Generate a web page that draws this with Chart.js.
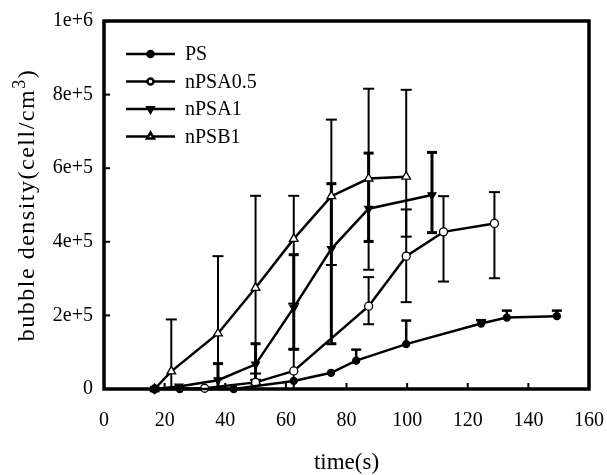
<!DOCTYPE html>
<html>
<head>
<meta charset="utf-8">
<title>bubble density</title>
<script src="https://cdn.jsdelivr.net/npm/chart.js@4.4.1/dist/chart.umd.min.js"></script>
<style>
  html, body { margin: 0; padding: 0; background: #fff; }
  #wrap { width: 607px; height: 475px; position: relative; }
</style>
</head>
<body>
<div id="wrap"><canvas id="c"></canvas></div>
<script>
// Axis ticks
const xTicks = [0, 20, 40, 60, 80, 100, 120, 140, 160];
const yTicks = [0, 200000, 400000, 600000, 800000, 1000000];
const yTickLabels = ['0', '2e+5', '4e+5', '6e+5', '8e+5', '1e+6'];

// PS
const psTime    = [16.7, 25, 42.8, 62.6, 74.9, 83.2, 99.7, 124.4, 132.9, 149.4];
const psDensity = [0, 0, 0, 22000, 44000, 77000, 122000, 178000, 194000, 198000];
const psLow     = [null, null, null, null, null, 77000, 122000, 178000, 194000, 198000];
const psHigh    = [null, null, null, null, null, 107000, 186000, 187000, 213000, 213000];

// nPSA0.5
const a05Time    = [16.7, 33.2, 50, 62.6, 87.3, 99.7, 112, 128.8];
const a05Density = [0, 2000, 18000, 49000, 225000, 361000, 427000, 450000];
const a05Low     = [null, null, -8000, -10000, 176000, 236000, 292000, 301000];
const a05High    = [null, null, 42000, 108000, 304000, 488000, 524000, 535000];

// nPSA1
const a1Time    = [16.7, 24.7, 37.6, 50, 62.6, 75, 87.3, 108.2];
const a1Density = [0, 7000, 24000, 67000, 221000, 381000, 490000, 527000];
const a1Low     = [null, null, -21000, 13000, 108000, 123000, 401000, 425000];
const a1High    = [null, null, 69000, 123000, 365000, 558000, 641000, 643000];

// nPSB1
const b1Time    = [16.7, 22.2, 37.6, 50, 62.6, 75, 87.3, 99.7];
const b1Density = [0, 48000, 151000, 275000, 408000, 524000, 572000, 577000];
const b1Low     = [null, -93000, -59000, 25000, 232000, 337000, 324000, 414000];
const b1High    = [null, 189000, 361000, 525000, 525000, 732000, 816000, 813000];

const serif = '"Liberation Serif", "Times New Roman", serif';

const series = [
  { label: 'PS',      time: psTime,  density: psDensity,  low: psLow,  high: psHigh,
    pointStyle: 'circle',   radius: 3.5, rotation: 0,   fill: '#000', barWidth: 2.5, cap: 5,
    legendRadius: 3 },
  { label: 'nPSA0.5', time: a05Time, density: a05Density, low: a05Low, high: a05High,
    pointStyle: 'circle',   radius: 4,   rotation: 0,   fill: '#fff', barWidth: 2,   cap: 5.5,
    legendRadius: 3 },
  { label: 'nPSA1',   time: a1Time,  density: a1Density,  low: a1Low,  high: a1High,
    pointStyle: 'triangle', radius: 4.5, rotation: 180, fill: '#000', barWidth: 3,   cap: 5,
    legendRadius: 3.5 },
  { label: 'nPSB1',   time: b1Time,  density: b1Density,  low: b1Low,  high: b1High,
    pointStyle: 'triangle', radius: 5,   rotation: 0,   fill: '#fff', barWidth: 2,   cap: 5.5,
    legendRadius: 4 }
];

const datasets = series.map(s => ({
  label: s.label,
  data: s.time.map((t, i) => ({ x: t, y: s.density[i] })),
  showLine: true,
  borderColor: '#000',
  borderWidth: 2.5,
  pointStyle: s.pointStyle,
  pointRadius: s.radius,
  pointRotation: s.rotation,
  pointBackgroundColor: s.fill,
  pointBorderColor: '#000',
  pointBorderWidth: 1.3,
  tension: 0,
  clip: false
}));

function seg(ctx, x1, y1, x2, y2) {
  ctx.beginPath(); ctx.moveTo(x1, y1); ctx.lineTo(x2, y2); ctx.stroke();
}

// Frame, inward ticks and error bars, drawn under the series
const underlay = {
  id: 'underlay',
  beforeDatasetsDraw(chart) {
    const { ctx, chartArea: a, scales: { x, y } } = chart;
    ctx.save();
    ctx.strokeStyle = '#000';
    ctx.lineCap = 'butt';

    // error bars
    ctx.save();
    ctx.beginPath();
    ctx.rect(a.left, a.top, a.right - a.left, a.bottom - a.top);
    ctx.clip();
    series.forEach(s => {
      s.time.forEach((t, i) => {
        if (s.high[i] == null) return;
        const px = x.getPixelForValue(t);
        const yHi = y.getPixelForValue(s.high[i]);
        const yLo = y.getPixelForValue(s.low[i]);
        ctx.lineWidth = s.barWidth;
        seg(ctx, px, yLo, px, yHi);
        seg(ctx, px - s.cap, yHi, px + s.cap, yHi);
        if (s.low[i] < s.density[i]) seg(ctx, px - s.cap, yLo, px + s.cap, yLo);
      });
    });
    ctx.restore();

    // inward tick marks
    ctx.lineWidth = 2;
    yTicks.forEach(v => {
      const py = y.getPixelForValue(v);
      seg(ctx, a.left, py, a.left + 6, py);
    });
    xTicks.forEach(v => {
      const px = x.getPixelForValue(v);
      seg(ctx, px, a.bottom, px, a.bottom - 6);
    });

    // plot frame
    ctx.lineWidth = 3.5;
    ctx.strokeRect(a.left, a.top, a.right - a.left, a.bottom - a.top);
    ctx.restore();
  },
  afterDraw(chart) {
    const { ctx, chartArea: a } = chart;
    ctx.save();
    ctx.fillStyle = '#000';

    // x axis title
    ctx.font = '23px ' + serif;
    ctx.textAlign = 'center';
    ctx.textBaseline = 'middle';
    ctx.fillText('time(s)', (a.left + a.right) / 2, 463);

    // y axis title with superscript
    const main = 'bubble density(cell/cm';
    const sup = '3';
    const tail = ')';
    ctx.save();
    ctx.translate(28, (a.top + a.bottom) / 2);
    ctx.rotate(-Math.PI / 2);
    ctx.textAlign = 'left';
    ctx.textBaseline = 'middle';
    ctx.letterSpacing = '1.5px';
    const bigFont = '24px ' + serif;
    const supFont = '18px ' + serif;
    ctx.font = bigFont;
    const w1 = ctx.measureText(main).width;
    const w3 = ctx.measureText(tail).width;
    ctx.font = supFont;
    const w2 = ctx.measureText(sup).width;
    let sx = -(w1 + w2 + w3) / 2;
    ctx.font = bigFont;
    ctx.fillText(main, sx, 0);
    sx += w1;
    ctx.font = supFont;
    ctx.fillText(sup, sx, -8);
    sx += w2;
    ctx.font = bigFont;
    ctx.fillText(tail, sx, 0);
    ctx.restore();

    // legend
    const rowY = [54, 81.5, 109, 136.5];
    series.forEach((s, i) => {
      const yy = rowY[i];
      ctx.strokeStyle = '#000';
      ctx.lineWidth = 2.5;
      seg(ctx, 126, yy, 175, yy);
      ctx.fillStyle = s.fill;
      ctx.strokeStyle = '#000';
      Chart.helpers.drawPoint(ctx, {
        pointStyle: s.pointStyle, radius: s.legendRadius,
        rotation: s.rotation, borderWidth: 1.2
      }, 150.5, yy);
      ctx.fillStyle = '#000';
      ctx.font = '20px ' + serif;
      ctx.textAlign = 'left';
      ctx.textBaseline = 'middle';
      ctx.fillText(s.label, 185, yy + 1);
    });
    ctx.restore();
  }
};

new Chart(document.getElementById('c'), {
  type: 'scatter',
  data: { datasets },
  plugins: [underlay],
  options: {
    responsive: true,
    maintainAspectRatio: false,
    animation: false,
    devicePixelRatio: 1,
    layout: { padding: { top: 21, right: 18, left: 0, bottom: 0 } },
    plugins: { legend: { display: false }, tooltip: { enabled: false } },
    scales: {
      x: {
        type: 'linear', min: 0, max: 160,
        afterBuildTicks: sc => { sc.ticks = xTicks.map(v => ({ value: v })); },
        afterFit: sc => { sc.height = 86; sc.paddingLeft = 0; sc.paddingRight = 0; },
        grid: { display: false, drawTicks: false },
        border: { display: false },
        ticks: { color: '#000', font: { family: serif, size: 20 }, padding: 20, maxRotation: 0,
                 callback: v => String(v) }
      },
      y: {
        type: 'linear', min: 0, max: 1000000,
        afterBuildTicks: sc => { sc.ticks = yTicks.map(v => ({ value: v })); },
        afterFit: sc => { sc.width = 104; sc.paddingTop = 0; sc.paddingBottom = 0; },
        grid: { display: false, drawTicks: false },
        border: { display: false },
        ticks: { color: '#000', font: { family: serif, size: 20 }, padding: 11,
                 callback: v => yTickLabels[yTicks.indexOf(v)] }
      }
    }
  }
});
</script>
</body>
</html>
